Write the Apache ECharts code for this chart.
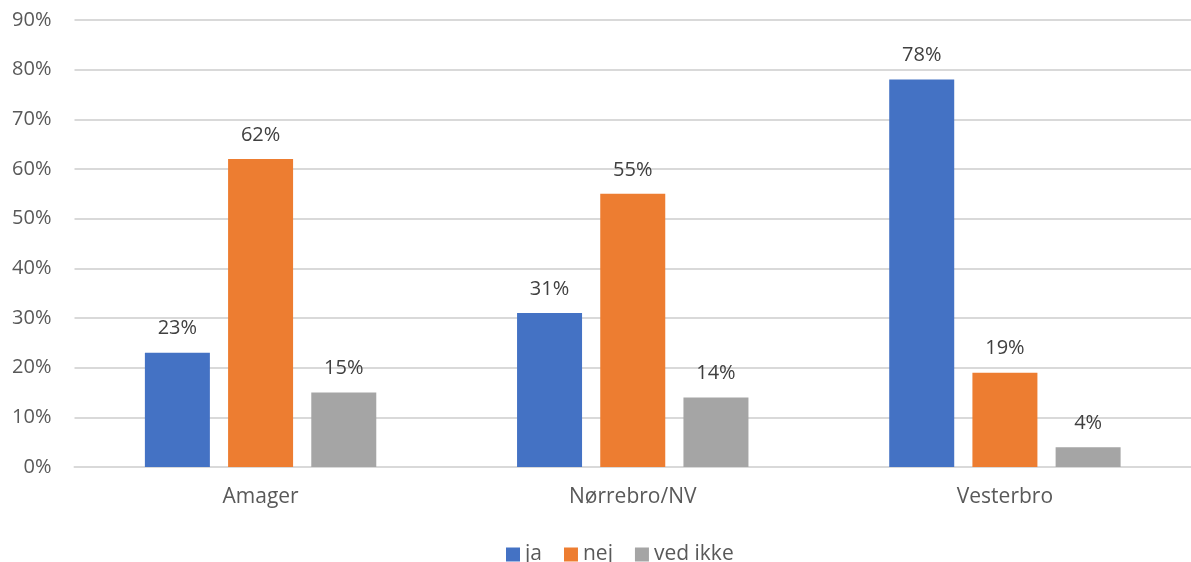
<!DOCTYPE html>
<html>
<head>
<meta charset="utf-8">
<script src="https://cdn.jsdelivr.net/npm/echarts@6/dist/echarts.min.js"></script>
<style>
  html, body { margin: 0; padding: 0; background: #ffffff; }
  #chart { width: 1191px; height: 562px; }
</style>
</head>
<body>
<div id="chart"></div>
<script>
// Districts and answer shares (percent)
const categories = ['Amager', 'Nørrebro/NV', 'Vesterbro'];
const seriesNames = ['ja', 'nej', 'ved ikke'];
const jaValues = [23, 31, 78];
const nejValues = [62, 55, 19];
const vedIkkeValues = [15, 14, 4];
const yTicks = [0, 10, 20, 30, 40, 50, 60, 70, 80, 90];

const colors = ['#4472C4', '#ED7D31', '#A5A5A5'];
const font = '"Open Sans", "Noto Sans", sans-serif';

function barSeries(name, values, color) {
  return {
    name: name,
    type: 'bar',
    data: values,
    barWidth: 65,
    barGap: '28%',
    itemStyle: { color: color },
    label: {
      show: true,
      position: 'top',
      distance: 14,
      formatter: p => p.value + '%',
      color: '#404040',
      fontFamily: font,
      fontSize: 20
    },
    emphasis: { disabled: true }
  };
}

const chart = echarts.init(document.getElementById('chart'), null, { renderer: 'canvas' });
chart.setOption({
  animation: false,
  color: colors,
  grid: { left: 74.5, top: 20, width: 1122, height: 447, containLabel: false },
  legend: {
    data: seriesNames,
    left: 501,
    top: 539,
    icon: 'rect',
    itemWidth: 14,
    itemHeight: 14,
    itemGap: 22,
    textStyle: { color: '#595959', fontFamily: font, fontSize: 21 }
  },
  xAxis: {
    type: 'category',
    data: categories,
    axisLine: { show: true, lineStyle: { color: '#D9D9D9', width: 2 } },
    axisTick: { show: false },
    axisLabel: { color: '#595959', fontFamily: font, fontSize: 21, margin: 20 }
  },
  yAxis: {
    type: 'value',
    min: yTicks[0],
    max: yTicks[yTicks.length - 1],
    interval: 10,
    axisLine: { show: false },
    axisTick: { show: false },
    splitLine: { lineStyle: { color: '#D9D9D9', width: 2 } },
    axisLabel: { color: '#595959', fontFamily: font, fontSize: 20, margin: 23, formatter: v => v + '%' }
  },
  series: [
    barSeries(seriesNames[0], jaValues, colors[0]),
    barSeries(seriesNames[1], nejValues, colors[1]),
    barSeries(seriesNames[2], vedIkkeValues, colors[2])
  ]
});
</script>
</body>
</html>
